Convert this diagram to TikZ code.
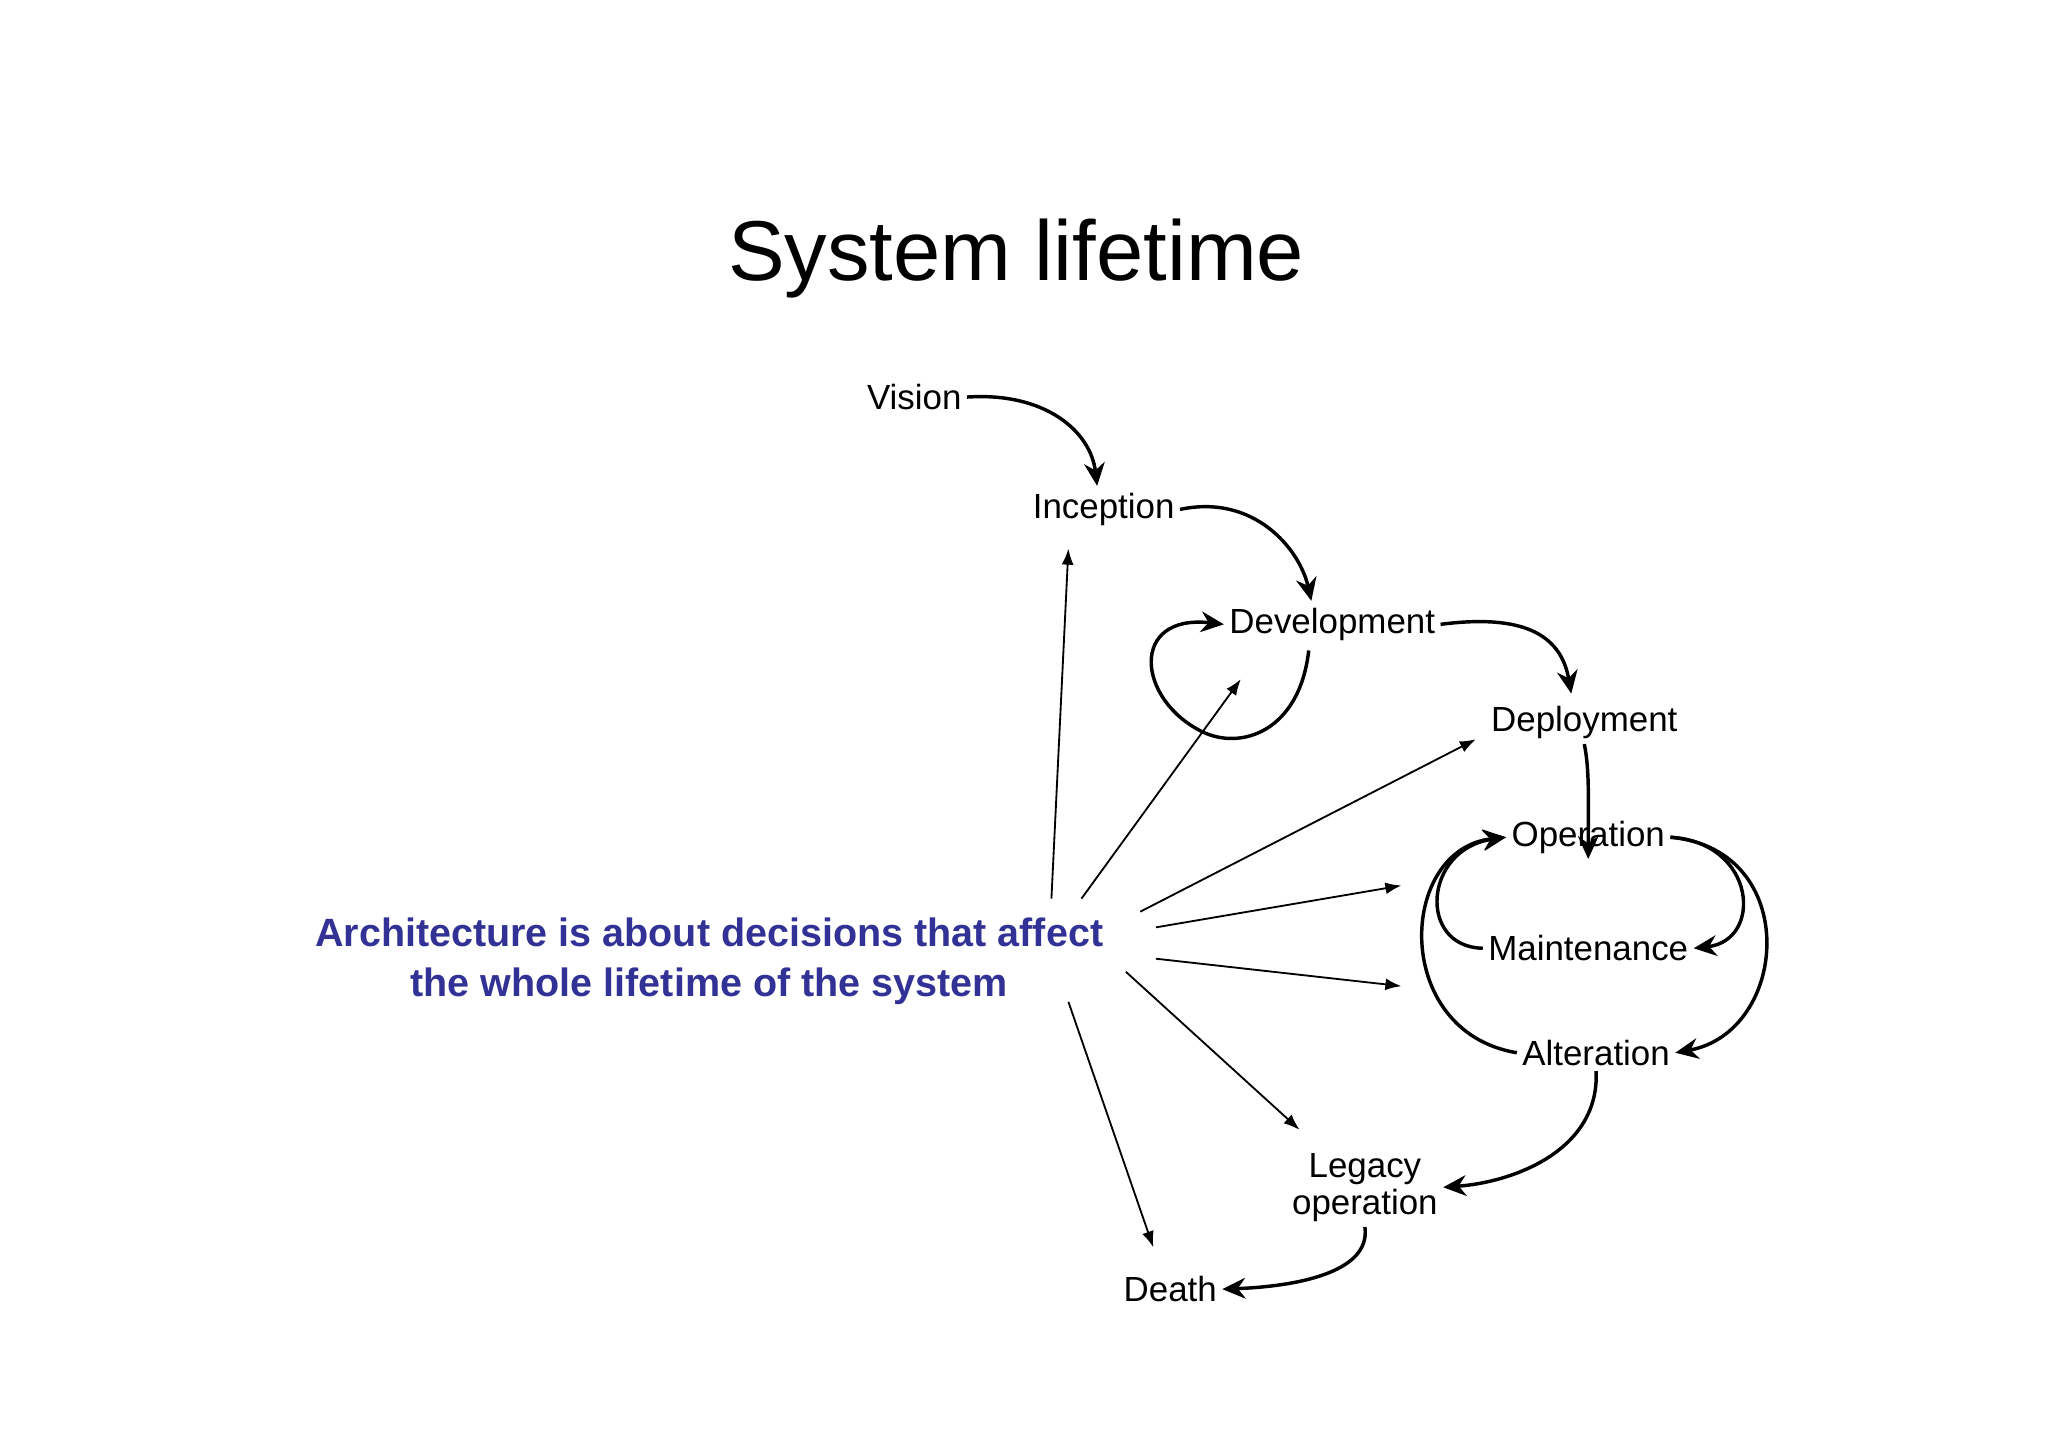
\documentclass[tikz,border=0pt]{standalone}
\usepackage{fontspec}
\setmainfont{Liberation Sans}
\usetikzlibrary{arrows.meta}
\definecolor{archblue}{RGB}{50,50,150}
\begin{document}
\begin{tikzpicture}[x=0.01cm,y=-0.01cm,
  lbl/.style={font=\fontsize{7.6}{9}\selectfont,inner sep=1pt,align=center},
  big/.style={line width=0.75pt,-{Stealth[length=5pt,width=4.5pt]}},
  thin/.style={line width=0.4pt,-{Latex[length=3.5pt,width=2.6pt]}}]
\useasboundingbox (0,0) rectangle (1568,1108);
\node (title) at (778,198) {\fontsize{18.5}{22}\selectfont System lifetime};
\node[lbl] (vis) at (700,304) {Vision};
\node[lbl] (inc) at (845,390) {Inception};
\node[lbl] (dev) at (1020,478) {Development};
\node[lbl] (dep) at (1213,553) {Deployment};
\node[lbl] (op) at (1216,641) {Operation};
\node[lbl] (mai) at (1216,726) {Maintenance};
\node[lbl] (alt) at (1222,806) {Alteration};
\node[lbl,font=\fontsize{7.6}{7}\selectfont] (leg) at (1045,909) {Legacy\\operation};
\node[lbl] (dth) at (896,987) {Death};
\node[font=\bfseries\fontsize{8.6}{11}\selectfont,text=archblue,align=center] (arch) at (543,736) {Architecture is about decisions that affect\\the whole lifetime of the system};
% thick curved arrows
\draw[big] (vis.east) .. controls (800,300) and (835,330) .. (840,372);
\draw[big] (inc.east) .. controls (960,378) and (995,420) .. (1004,460);
\draw[big] (dev.east) .. controls (1165,470) and (1195,485) .. (1203,531);
\draw[big] (1002,498) .. controls (995,560) and (950,575) .. (920,560) .. controls (870,535) and (865,470) .. (dev.west);
\draw[big] (dep.south) .. controls (1217,590) and (1216,610) .. (op.south);
\draw[big] (op.east) .. controls (1345,645) and (1350,720) .. (mai.east);
\draw[big] (op.east) .. controls (1380,650) and (1370,790) .. (alt.east);
\draw[big] (mai.west) .. controls (1085,725) and (1090,650) .. (op.west);
\draw[big] (alt.west) .. controls (1065,790) and (1070,650) .. (op.west);
\draw[big] (alt.south) .. controls (1225,880) and (1160,905) .. (leg.east);
\draw[big] (leg.south) .. controls (1050,975) and (990,985) .. (dth.east);
% thin arrows
\coordinate (a1) at (805,688); \coordinate (b1) at (818,420);
\coordinate (a2) at (828,688); \coordinate (b2) at (950,520);
\coordinate (a3) at (873,698); \coordinate (b3) at (1130,566);
\coordinate (a4) at (885,710); \coordinate (b4) at (1073,678);
\coordinate (a5) at (885,734); \coordinate (b5) at (1073,755);
\coordinate (a6) at (862,744); \coordinate (b6) at (995,865);
\coordinate (a7) at (818,767); \coordinate (b7) at (883,955);
\foreach \i in {1,...,7} \draw[thin] (a\i) -- (b\i);
\end{tikzpicture}
\end{document}
